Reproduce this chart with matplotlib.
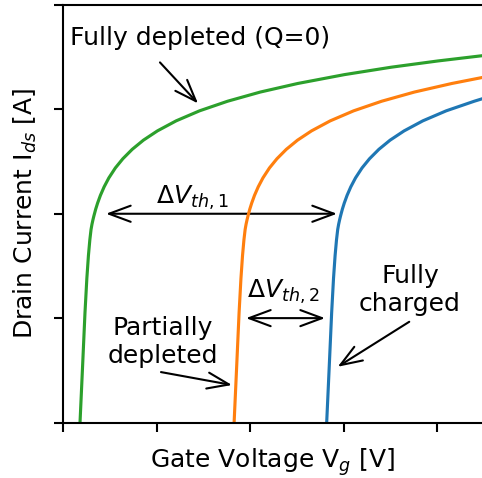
import matplotlib
matplotlib.use('Agg')
import matplotlib.pyplot as plt

# ── Transfer curves (arbitrary units) ───────────────────────────────────
green_x = [0.182, 0.210, 0.235, 0.255, 0.272, 0.287, 0.300, 0.310, 0.320, 0.330,
           0.350, 0.370, 0.400, 0.440, 0.490, 0.560, 0.640, 0.740, 0.860, 1.010,
           1.210, 1.460, 1.760, 2.110, 2.510, 3.010, 3.510, 4.010, 4.481]
green_y = [0.000, 0.550, 1.050, 1.380, 1.600, 1.750, 1.850, 1.900, 1.941, 1.978,
           2.045, 2.102, 2.176, 2.258, 2.343, 2.439, 2.527, 2.617, 2.705, 2.794,
           2.890, 2.986, 3.078, 3.166, 3.248, 3.333, 3.404, 3.464, 3.514]

orange_x = [1.830, 1.858, 1.883, 1.903, 1.920, 1.935, 1.948, 1.958, 1.968, 1.978,
            1.998, 2.018, 2.048, 2.088, 2.138, 2.208, 2.288, 2.388, 2.508, 2.658,
            2.858, 3.108, 3.408, 3.758, 4.158, 4.481]
orange_y = [0.000, 0.550, 1.050, 1.380, 1.600, 1.750, 1.850, 1.900, 1.941, 1.978,
            2.045, 2.102, 2.176, 2.258, 2.343, 2.439, 2.527, 2.617, 2.705, 2.794,
            2.890, 2.986, 3.078, 3.166, 3.248, 3.305]

blue_x = [2.820, 2.848, 2.873, 2.893, 2.910, 2.925, 2.938, 2.948, 2.958, 2.968,
          2.988, 3.008, 3.038, 3.078, 3.128, 3.198, 3.278, 3.378, 3.498, 3.648,
          3.848, 4.098, 4.398, 4.481]
blue_y = [0.000, 0.550, 1.050, 1.380, 1.600, 1.750, 1.850, 1.900, 1.941, 1.978,
          2.045, 2.102, 2.176, 2.258, 2.343, 2.439, 2.527, 2.617, 2.705, 2.794,
          2.890, 2.986, 3.078, 3.101]

x_ticks = [0, 1, 2, 3, 4]
y_ticks = [0, 1, 2, 3, 4]

# threshold shifts (arrow ends) and their levels
dvth1_x = [0.460, 2.930]
dvth1_y = 2.0
dvth2_x = [1.957, 2.802]
dvth2_y = 1.0

plt.rcParams['font.size'] = 18
plt.rcParams['font.family'] = ['DejaVu Sans']
plt.rcParams['mathtext.fontset'] = 'dejavusans'

fig = plt.figure(figsize=(4.82, 4.78), dpi=100)
ax = fig.add_axes([63 / 482, 55.5 / 478, 419 / 482, 417.5 / 478])

ax.plot(blue_x, blue_y, color='#1f77b4', lw=2.25, zorder=2)
ax.plot(orange_x, orange_y, color='#ff7f0e', lw=2.25, zorder=2)
ax.plot(green_x, green_y, color='#2ca02c', lw=2.25, zorder=2)

ax.set_xlim(0, 4.481)
ax.set_ylim(0, 4)
ax.set_xticks(x_ticks)
ax.set_yticks(y_ticks)
ax.set_xticklabels([])
ax.set_yticklabels([])
ax.tick_params(direction='out', length=6.5, width=1.5)
for side in ['left', 'bottom', 'top']:
    ax.spines[side].set_linewidth(1.5)
ax.spines['right'].set_visible(False)

ax.set_xlabel('Gate Voltage V$_g$ [V]')
ax.set_ylabel('Drain Current I$_{ds}$ [A]')
ax.xaxis.set_label_coords(0.5, -45.5 / 417.5)
ax.xaxis.label.set_verticalalignment('baseline')
ax.yaxis.set_label_coords(-30 / 419, 0.5)
ax.yaxis.label.set_verticalalignment('baseline')

# ── Annotations ─────────────────────────────────────────────────────────
single = dict(arrowstyle='->, head_length=0.78, head_width=0.29', lw=1.5,
              color='black', shrinkA=0, shrinkB=0, mutation_scale=20)
double = dict(single, arrowstyle='<->, head_length=0.78, head_width=0.29')

ax.text(1.465, 3.612, 'Fully depleted (Q=0)', ha='center', va='baseline')
ax.annotate('', xy=(1.444, 3.057), xytext=(1.037, 3.450), arrowprops=single, zorder=1)

ax.annotate('', xy=(dvth1_x[0], dvth1_y), xytext=(dvth1_x[1], dvth1_y),
            arrowprops=double, zorder=1)
ax.text(1.380, 2.100, r'$\Delta V_{th,1}$', ha='center', va='baseline')

ax.annotate('', xy=(dvth2_x[0], dvth2_y), xytext=(dvth2_x[1], dvth2_y),
            arrowprops=double, zorder=1)
ax.text(2.353, 1.191, r'$\Delta V_{th,2}$', ha='center', va='baseline')

ax.text(1.070, 0.775, 'Partially\ndepleted', ha='center', va='center')
ax.annotate('', xy=(1.807, 0.359), xytext=(1.048, 0.483), arrowprops=single, zorder=1)

ax.text(3.711, 1.266, 'Fully\ncharged', ha='center', va='center')
ax.annotate('', xy=(2.938, 0.534), xytext=(3.703, 0.965), arrowprops=single, zorder=1)

fig.savefig('out.png', dpi=100, facecolor='white')
